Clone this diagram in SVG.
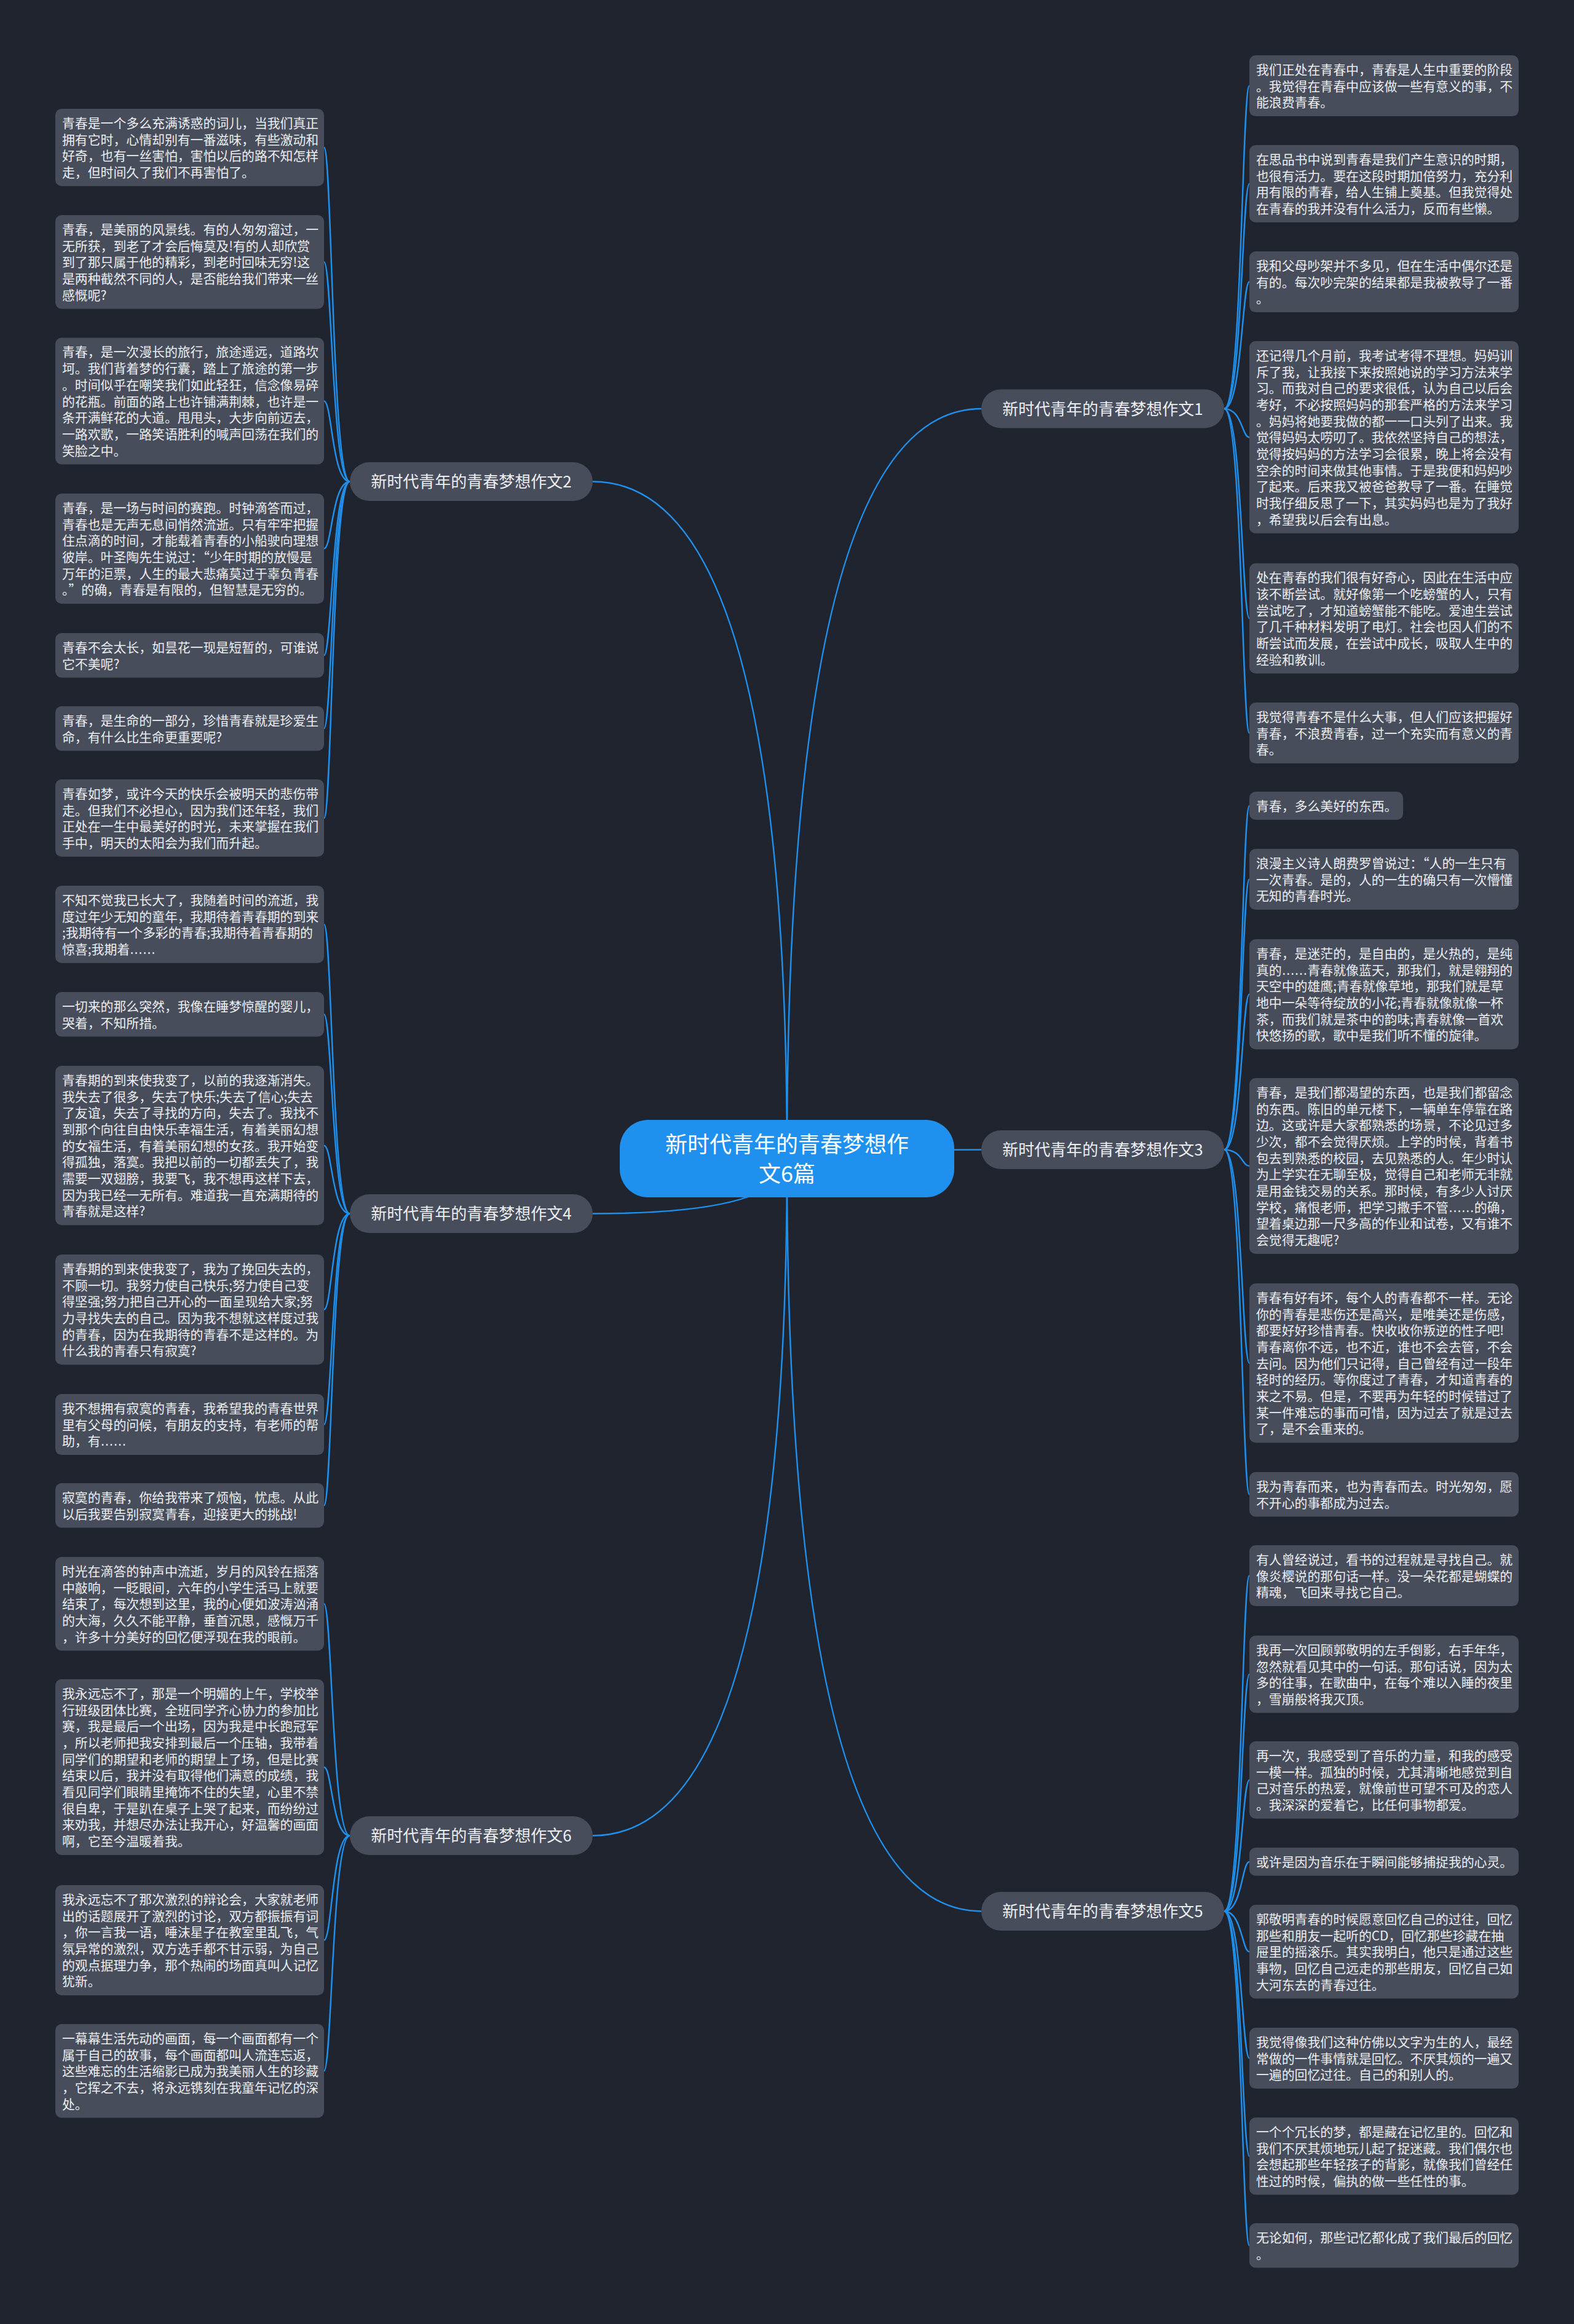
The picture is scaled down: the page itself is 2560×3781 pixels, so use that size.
<svg xmlns="http://www.w3.org/2000/svg" width="2560" height="3781" viewBox="0 0 2560 3781">
<defs>
<style>
.bg{fill:#20242f}
.leaf rect{fill:#474d5b}
.leaf text{font-family:"Noto Sans CJK SC","Noto Sans",sans-serif;font-size:20.87px;fill:#eceef2}
.leaf .el{font-family:"DejaVu Sans","Noto Sans CJK SC",sans-serif}
.sub rect{fill:#474d5b}
.sub text{font-family:"Noto Sans CJK SC","Noto Sans",sans-serif;font-size:26px;fill:#eceef2;text-anchor:middle}
.root rect{fill:#1f90ee}
.root text{font-family:"Noto Sans CJK SC","Noto Sans",sans-serif;font-size:36px;fill:#ffffff;text-anchor:middle}
#connectors path{fill:none;stroke:#1f8fea;stroke-width:2.5}
</style>
</defs>
<rect class="bg" x="0" y="0" width="2560" height="3781"/>
<g id="connectors">
<path d="M1280 1885 Q1280 665 1596 665"/>
<path d="M1280 1885 Q1280 783.5 964 783.5"/>
<path d="M1280 1885 Q1280 1870.5 1596 1870.5"/>
<path d="M1280 1885 Q1280 1974.5 964 1974.5"/>
<path d="M1280 1885 Q1280 3109.5 1596 3109.5"/>
<path d="M1280 1885 Q1280 2986.5 964 2986.5"/>
<path d="M569 783.5 C540 783.5 540 239.9 527 239.9"/>
<path d="M569 783.5 C540 783.5 540 426.3 527 426.3"/>
<path d="M569 783.5 C540 783.5 540 652.6 527 652.6"/>
<path d="M569 783.5 C540 783.5 540 892.6 527 892.6"/>
<path d="M569 783.5 C540 783.5 540 1066.2 527 1066.2"/>
<path d="M569 783.5 C540 783.5 540 1185.2 527 1185.2"/>
<path d="M569 783.5 C540 783.5 540 1330.9 527 1330.9"/>
<path d="M569 1974.5 C540 1974.5 540 1503.9 527 1503.9"/>
<path d="M569 1974.5 C540 1974.5 540 1650.2 527 1650.2"/>
<path d="M569 1974.5 C540 1974.5 540 1863.7 527 1863.7"/>
<path d="M569 1974.5 C540 1974.5 540 2130.6 527 2130.6"/>
<path d="M569 1974.5 C540 1974.5 540 2317.6 527 2317.6"/>
<path d="M569 1974.5 C540 1974.5 540 2449.2 527 2449.2"/>
<path d="M569 2986.5 C540 2986.5 540 2609.3 527 2609.3"/>
<path d="M569 2986.5 C540 2986.5 540 2875 527 2875"/>
<path d="M569 2986.5 C540 2986.5 540 3156.6 527 3156.6"/>
<path d="M569 2986.5 C540 2986.5 540 3369.3 527 3369.3"/>
<path d="M1991 665 C2020 665 2020 139.6 2032 139.6"/>
<path d="M1991 665 C2020 665 2020 298.9 2032 298.9"/>
<path d="M1991 665 C2020 665 2020 458.6 2032 458.6"/>
<path d="M1991 665 C2020 665 2020 711.4 2032 711.4"/>
<path d="M1991 665 C2020 665 2020 1006.1 2032 1006.1"/>
<path d="M1991 665 C2020 665 2020 1192.6 2032 1192.6"/>
<path d="M1991 1870.5 C2020 1870.5 2020 1310.9 2032 1310.9"/>
<path d="M1991 1870.5 C2020 1870.5 2020 1430.6 2032 1430.6"/>
<path d="M1991 1870.5 C2020 1870.5 2020 1617.6 2032 1617.6"/>
<path d="M1991 1870.5 C2020 1870.5 2020 1897 2032 1897"/>
<path d="M1991 1870.5 C2020 1870.5 2020 2217.7 2032 2217.7"/>
<path d="M1991 1870.5 C2020 1870.5 2020 2431.2 2032 2431.2"/>
<path d="M1991 3109.5 C2020 3109.5 2020 2563.6 2032 2563.6"/>
<path d="M1991 3109.5 C2020 3109.5 2020 2723.9 2032 2723.9"/>
<path d="M1991 3109.5 C2020 3109.5 2020 2895.9 2032 2895.9"/>
<path d="M1991 3109.5 C2020 3109.5 2020 3028.9 2032 3028.9"/>
<path d="M1991 3109.5 C2020 3109.5 2020 3175.3 2032 3175.3"/>
<path d="M1991 3109.5 C2020 3109.5 2020 3348.6 2032 3348.6"/>
<path d="M1991 3109.5 C2020 3109.5 2020 3507.9 2032 3507.9"/>
<path d="M1991 3109.5 C2020 3109.5 2020 3653.2 2032 3653.2"/>
</g>
<g id="root" class="root"><rect x="1008" y="1822" width="544" height="126" rx="46"/><text x="1280" y="1874.5">新时代青年的青春梦想作</text><text x="1280" y="1922.5">文6篇</text></g>
<g id="g1" class="sub"><rect x="1596" y="633.5" width="395" height="63" rx="31.5"/><text x="1793.5" y="674.5">新时代青年的青春梦想作文1</text></g>
<g id="g2" class="sub"><rect x="569" y="752" width="395" height="63" rx="31.5"/><text x="766.5" y="793">新时代青年的青春梦想作文2</text></g>
<g id="g3" class="sub"><rect x="1596" y="1839" width="395" height="63" rx="31.5"/><text x="1793.5" y="1880">新时代青年的青春梦想作文3</text></g>
<g id="g4" class="sub"><rect x="569" y="1943" width="395" height="63" rx="31.5"/><text x="766.5" y="1984">新时代青年的青春梦想作文4</text></g>
<g id="g5" class="sub"><rect x="1596" y="3078" width="395" height="63" rx="31.5"/><text x="1793.5" y="3119">新时代青年的青春梦想作文5</text></g>
<g id="g6" class="sub"><rect x="569" y="2955" width="395" height="63" rx="31.5"/><text x="766.5" y="2996">新时代青年的青春梦想作文6</text></g>
<g id="l2a" class="leaf"><rect x="90" y="177" width="437" height="125.8" rx="10"/><text x="101" y="207.8"><tspan x="101">青春是一个多么充满诱惑的词儿，当我们真正</tspan><tspan x="101" dy="26.7">拥有它时，心情却别有一番滋味，有些激动和</tspan><tspan x="101" dy="26.7">好奇，也有一丝害怕，害怕以后的路不知怎样</tspan><tspan x="101" dy="26.7">走，但时间久了我们不再害怕了。</tspan></text></g>
<g id="l2b" class="leaf"><rect x="90" y="350" width="437" height="152.5" rx="10"/><text x="101" y="380.8"><tspan x="101">青春，是美丽的风景线。有的人匆匆溜过，一</tspan><tspan x="101" dy="26.7">无所获，到老了才会后悔莫及!有的人却欣赏</tspan><tspan x="101" dy="26.7">到了那只属于他的精彩，到老时回味无穷!这</tspan><tspan x="101" dy="26.7">是两种截然不同的人，是否能给我们带来一丝</tspan><tspan x="101" dy="26.7">感慨呢?</tspan></text></g>
<g id="l2c" class="leaf"><rect x="90" y="549.6" width="437" height="205.9" rx="10"/><text x="101" y="580.4"><tspan x="101">青春，是一次漫长的旅行，旅途遥远，道路坎</tspan><tspan x="101" dy="26.7">坷。我们背着梦的行囊，踏上了旅途的第一步</tspan><tspan x="101" dy="26.7">。时间似乎在嘲笑我们如此轻狂，信念像易碎</tspan><tspan x="101" dy="26.7">的花瓶。前面的路上也许铺满荆棘，也许是一</tspan><tspan x="101" dy="26.7">条开满鲜花的大道。甩甩头，大步向前迈去，</tspan><tspan x="101" dy="26.7">一路欢歌，一路笑语胜利的喊声回荡在我们的</tspan><tspan x="101" dy="26.7">笑脸之中。</tspan></text></g>
<g id="l2d" class="leaf"><rect x="90" y="803" width="437" height="179.2" rx="10"/><text x="101" y="833.8"><tspan x="101">青春，是一场与时间的赛跑。时钟滴答而过，</tspan><tspan x="101" dy="26.7">青春也是无声无息间悄然流逝。只有牢牢把握</tspan><tspan x="101" dy="26.7">住点滴的时间，才能载着青春的小船驶向理想</tspan><tspan x="101" dy="26.7">彼岸。叶圣陶先生说过：“少年时期的放慢是</tspan><tspan x="101" dy="26.7">万年的洰票，人生的最大悲痛莫过于辜负青春</tspan><tspan x="101" dy="26.7">。”的确，青春是有限的，但智慧是无穷的。</tspan></text></g>
<g id="l2e" class="leaf"><rect x="90" y="1030" width="437" height="72.4" rx="10"/><text x="101" y="1060.8"><tspan x="101">青春不会太长，如昙花一现是短暂的，可谁说</tspan><tspan x="101" dy="26.7">它不美呢?</tspan></text></g>
<g id="l2f" class="leaf"><rect x="90" y="1149" width="437" height="72.4" rx="10"/><text x="101" y="1179.8"><tspan x="101">青春，是生命的一部分，珍惜青春就是珍爱生</tspan><tspan x="101" dy="26.7">命，有什么比生命更重要呢?</tspan></text></g>
<g id="l2g" class="leaf"><rect x="90" y="1268" width="437" height="125.8" rx="10"/><text x="101" y="1298.8"><tspan x="101">青春如梦，或许今天的快乐会被明天的悲伤带</tspan><tspan x="101" dy="26.7">走。但我们不必担心，因为我们还年轻，我们</tspan><tspan x="101" dy="26.7">正处在一生中最美好的时光，未来掌握在我们</tspan><tspan x="101" dy="26.7">手中，明天的太阳会为我们而升起。</tspan></text></g>
<g id="l4a" class="leaf"><rect x="90" y="1441" width="437" height="125.8" rx="10"/><text x="101" y="1471.8"><tspan x="101">不知不觉我已长大了，我随着时间的流逝，我</tspan><tspan x="101" dy="26.7">度过年少无知的童年，我期待着青春期的到来</tspan><tspan x="101" dy="26.7">;我期待有一个多彩的青春;我期待着青春期的</tspan><tspan x="101" dy="26.7">惊喜;我期着<tspan class="el">……</tspan></tspan></text></g>
<g id="l4b" class="leaf"><rect x="90" y="1614" width="437" height="72.4" rx="10"/><text x="101" y="1644.8"><tspan x="101">一切来的那么突然，我像在睡梦惊醒的婴儿，</tspan><tspan x="101" dy="26.7">哭着，不知所措。</tspan></text></g>
<g id="l4c" class="leaf"><rect x="90" y="1734" width="437" height="259.3" rx="10"/><text x="101" y="1764.8"><tspan x="101">青春期的到来使我变了，以前的我逐渐消失。</tspan><tspan x="101" dy="26.7">我失去了很多，失去了快乐;失去了信心;失去</tspan><tspan x="101" dy="26.7">了友谊，失去了寻找的方向，失去了。我找不</tspan><tspan x="101" dy="26.7">到那个向往自由快乐幸福生活，有着美丽幻想</tspan><tspan x="101" dy="26.7">的女福生活，有着美丽幻想的女孩。我开始变</tspan><tspan x="101" dy="26.7">得孤独，落寞。我把以前的一切都丢失了，我</tspan><tspan x="101" dy="26.7">需要一双翅膀，我要飞，我不想再这样下去，</tspan><tspan x="101" dy="26.7">因为我已经一无所有。难道我一直充满期待的</tspan><tspan x="101" dy="26.7">青春就是这样?</tspan></text></g>
<g id="l4d" class="leaf"><rect x="90" y="2041" width="437" height="179.2" rx="10"/><text x="101" y="2071.8"><tspan x="101">青春期的到来使我变了，我为了挽回失去的，</tspan><tspan x="101" dy="26.7">不顾一切。我努力使自己快乐;努力使自己变</tspan><tspan x="101" dy="26.7">得坚强;努力把自己开心的一面呈现给大家;努</tspan><tspan x="101" dy="26.7">力寻找失去的自己。因为我不想就这样度过我</tspan><tspan x="101" dy="26.7">的青春，因为在我期待的青春不是这样的。为</tspan><tspan x="101" dy="26.7">什么我的青春只有寂寞?</tspan></text></g>
<g id="l4e" class="leaf"><rect x="90" y="2268" width="437" height="99.1" rx="10"/><text x="101" y="2298.8"><tspan x="101">我不想拥有寂寞的青春，我希望我的青春世界</tspan><tspan x="101" dy="26.7">里有父母的问候，有朋友的支持，有老师的帮</tspan><tspan x="101" dy="26.7">助，有<tspan class="el">……</tspan></tspan></text></g>
<g id="l4f" class="leaf"><rect x="90" y="2413" width="437" height="72.4" rx="10"/><text x="101" y="2443.8"><tspan x="101">寂寞的青春，你给我带来了烦恼，忧虑。从此</tspan><tspan x="101" dy="26.7">以后我要告别寂寞青春，迎接更大的挑战!</tspan></text></g>
<g id="l6a" class="leaf"><rect x="90" y="2533" width="437" height="152.5" rx="10"/><text x="101" y="2563.8"><tspan x="101">时光在滴答的钟声中流逝，岁月的风铃在摇落</tspan><tspan x="101" dy="26.7">中敲响，一眨眼间，六年的小学生活马上就要</tspan><tspan x="101" dy="26.7">结束了，每次想到这里，我的心便如波涛汹涌</tspan><tspan x="101" dy="26.7">的大海，久久不能平静，垂首沉思，感慨万千</tspan><tspan x="101" dy="26.7">，许多十分美好的回忆便浮现在我的眼前。</tspan></text></g>
<g id="l6b" class="leaf"><rect x="90" y="2732" width="437" height="286" rx="10"/><text x="101" y="2762.8"><tspan x="101">我永远忘不了，那是一个明媚的上午，学校举</tspan><tspan x="101" dy="26.7">行班级团体比赛，全班同学齐心协力的参加比</tspan><tspan x="101" dy="26.7">赛，我是最后一个出场，因为我是中长跑冠军</tspan><tspan x="101" dy="26.7">，所以老师把我安排到最后一个压轴，我带着</tspan><tspan x="101" dy="26.7">同学们的期望和老师的期望上了场，但是比赛</tspan><tspan x="101" dy="26.7">结束以后，我并没有取得他们满意的成绩，我</tspan><tspan x="101" dy="26.7">看见同学们眼睛里掩饰不住的失望，心里不禁</tspan><tspan x="101" dy="26.7">很自卑，于是趴在桌子上哭了起来，而纷纷过</tspan><tspan x="101" dy="26.7">来劝我，并想尽办法让我开心，好温馨的画面</tspan><tspan x="101" dy="26.7">啊，它至今温暖着我。</tspan></text></g>
<g id="l6c" class="leaf"><rect x="90" y="3067" width="437" height="179.2" rx="10"/><text x="101" y="3097.8"><tspan x="101">我永远忘不了那次激烈的辩论会，大家就老师</tspan><tspan x="101" dy="26.7">出的话题展开了激烈的讨论，双方都振振有词</tspan><tspan x="101" dy="26.7">，你一言我一语，唾沫星子在教室里乱飞，气</tspan><tspan x="101" dy="26.7">氛异常的激烈，双方选手都不甘示弱，为自己</tspan><tspan x="101" dy="26.7">的观点据理力争，那个热闹的场面真叫人记忆</tspan><tspan x="101" dy="26.7">犹新。</tspan></text></g>
<g id="l6d" class="leaf"><rect x="90" y="3293" width="437" height="152.5" rx="10"/><text x="101" y="3323.8"><tspan x="101">一幕幕生活先动的画面，每一个画面都有一个</tspan><tspan x="101" dy="26.7">属于自己的故事，每个画面都叫人流连忘返，</tspan><tspan x="101" dy="26.7">这些难忘的生活缩影已成为我美丽人生的珍藏</tspan><tspan x="101" dy="26.7">，它挥之不去，将永远镌刻在我童年记忆的深</tspan><tspan x="101" dy="26.7">处。</tspan></text></g>
<g id="r1a" class="leaf"><rect x="2032" y="90" width="438" height="99.1" rx="10"/><text x="2043" y="120.8"><tspan x="2043">我们正处在青春中，青春是人生中重要的阶段</tspan><tspan x="2043" dy="26.7">。我觉得在青春中应该做一些有意义的事，不</tspan><tspan x="2043" dy="26.7">能浪费青春。</tspan></text></g>
<g id="r1b" class="leaf"><rect x="2032" y="236" width="438" height="125.8" rx="10"/><text x="2043" y="266.8"><tspan x="2043">在思品书中说到青春是我们产生意识的时期，</tspan><tspan x="2043" dy="26.7">也很有活力。要在这段时期加倍努力，充分利</tspan><tspan x="2043" dy="26.7">用有限的青春，给人生铺上奠基。但我觉得处</tspan><tspan x="2043" dy="26.7">在青春的我并没有什么活力，反而有些懒。</tspan></text></g>
<g id="r1c" class="leaf"><rect x="2032" y="409" width="438" height="99.1" rx="10"/><text x="2043" y="439.8"><tspan x="2043">我和父母吵架并不多见，但在生活中偶尔还是</tspan><tspan x="2043" dy="26.7">有的。每次吵完架的结果都是我被教导了一番</tspan><tspan x="2043" dy="26.7">。</tspan></text></g>
<g id="r1d" class="leaf"><rect x="2032" y="555" width="438" height="312.7" rx="10"/><text x="2043" y="585.8"><tspan x="2043">还记得几个月前，我考试考得不理想。妈妈训</tspan><tspan x="2043" dy="26.7">斥了我，让我接下来按照她说的学习方法来学</tspan><tspan x="2043" dy="26.7">习。而我对自己的要求很低，认为自己以后会</tspan><tspan x="2043" dy="26.7">考好，不必按照妈妈的那套严格的方法来学习</tspan><tspan x="2043" dy="26.7">。妈妈将她要我做的都一一口头列了出来。我</tspan><tspan x="2043" dy="26.7">觉得妈妈太唠叨了。我依然坚持自己的想法，</tspan><tspan x="2043" dy="26.7">觉得按妈妈的方法学习会很累，晚上将会没有</tspan><tspan x="2043" dy="26.7">空余的时间来做其他事情。于是我便和妈妈吵</tspan><tspan x="2043" dy="26.7">了起来。后来我又被爸爸教导了一番。在睡觉</tspan><tspan x="2043" dy="26.7">时我仔细反思了一下，其实妈妈也是为了我好</tspan><tspan x="2043" dy="26.7">，希望我以后会有出息。</tspan></text></g>
<g id="r1e" class="leaf"><rect x="2032" y="916.5" width="438" height="179.2" rx="10"/><text x="2043" y="947.3"><tspan x="2043">处在青春的我们很有好奇心，因此在生活中应</tspan><tspan x="2043" dy="26.7">该不断尝试。就好像第一个吃螃蟹的人，只有</tspan><tspan x="2043" dy="26.7">尝试吃了，才知道螃蟹能不能吃。爱迪生尝试</tspan><tspan x="2043" dy="26.7">了几千种材料发明了电灯。社会也因人们的不</tspan><tspan x="2043" dy="26.7">断尝试而发展，在尝试中成长，吸取人生中的</tspan><tspan x="2043" dy="26.7">经验和教训。</tspan></text></g>
<g id="r1f" class="leaf"><rect x="2032" y="1143" width="438" height="99.1" rx="10"/><text x="2043" y="1173.8"><tspan x="2043">我觉得青春不是什么大事，但人们应该把握好</tspan><tspan x="2043" dy="26.7">青春，不浪费青春，过一个充实而有意义的青</tspan><tspan x="2043" dy="26.7">春。</tspan></text></g>
<g id="r3a" class="leaf"><rect x="2032" y="1288" width="250" height="45.7" rx="10"/><text x="2043" y="1318.8">青春，多么美好的东西。</text></g>
<g id="r3b" class="leaf"><rect x="2032" y="1381" width="438" height="99.1" rx="10"/><text x="2043" y="1411.8"><tspan x="2043">浪漫主义诗人朗费罗曾说过：“人的一生只有</tspan><tspan x="2043" dy="26.7">一次青春。是的，人的一生的确只有一次懵懂</tspan><tspan x="2043" dy="26.7">无知的青春时光。</tspan></text></g>
<g id="r3c" class="leaf"><rect x="2032" y="1528" width="438" height="179.2" rx="10"/><text x="2043" y="1558.8"><tspan x="2043">青春，是迷茫的，是自由的，是火热的，是纯</tspan><tspan x="2043" dy="26.7">真的<tspan class="el">……</tspan>青春就像蓝天，那我们，就是翱翔的</tspan><tspan x="2043" dy="26.7">天空中的雄鹰;青春就像草地，那我们就是草</tspan><tspan x="2043" dy="26.7">地中一朵等待绽放的小花;青春就像就像一杯</tspan><tspan x="2043" dy="26.7">茶，而我们就是茶中的韵味;青春就像一首欢</tspan><tspan x="2043" dy="26.7">快悠扬的歌，歌中是我们听不懂的旋律。</tspan></text></g>
<g id="r3d" class="leaf"><rect x="2032" y="1754" width="438" height="286" rx="10"/><text x="2043" y="1784.8"><tspan x="2043">青春，是我们都渴望的东西，也是我们都留念</tspan><tspan x="2043" dy="26.7">的东西。陈旧的单元楼下，一辆单车停靠在路</tspan><tspan x="2043" dy="26.7">边。这或许是大家都熟悉的场景，不论见过多</tspan><tspan x="2043" dy="26.7">少次，都不会觉得厌烦。上学的时候，背着书</tspan><tspan x="2043" dy="26.7">包去到熟悉的校园，去见熟悉的人。年少时认</tspan><tspan x="2043" dy="26.7">为上学实在无聊至极，觉得自己和老师无非就</tspan><tspan x="2043" dy="26.7">是用金钱交易的关系。那时候，有多少人讨厌</tspan><tspan x="2043" dy="26.7">学校，痛恨老师，把学习撒手不管<tspan class="el">……</tspan>的确，</tspan><tspan x="2043" dy="26.7">望着桌边那一尺多高的作业和试卷，又有谁不</tspan><tspan x="2043" dy="26.7">会觉得无趣呢?</tspan></text></g>
<g id="r3e" class="leaf"><rect x="2032" y="2088" width="438" height="259.3" rx="10"/><text x="2043" y="2118.8"><tspan x="2043">青春有好有坏，每个人的青春都不一样。无论</tspan><tspan x="2043" dy="26.7">你的青春是悲伤还是高兴，是唯美还是伤感，</tspan><tspan x="2043" dy="26.7">都要好好珍惜青春。快收收你叛逆的性子吧!</tspan><tspan x="2043" dy="26.7">青春离你不远，也不近，谁也不会去管，不会</tspan><tspan x="2043" dy="26.7">去问。因为他们只记得，自己曾经有过一段年</tspan><tspan x="2043" dy="26.7">轻时的经历。等你度过了青春，才知道青春的</tspan><tspan x="2043" dy="26.7">来之不易。但是，不要再为年轻的时候错过了</tspan><tspan x="2043" dy="26.7">某一件难忘的事而可惜，因为过去了就是过去</tspan><tspan x="2043" dy="26.7">了，是不会重来的。</tspan></text></g>
<g id="r3f" class="leaf"><rect x="2032" y="2395" width="438" height="72.4" rx="10"/><text x="2043" y="2425.8"><tspan x="2043">我为青春而来，也为青春而去。时光匆匆，愿</tspan><tspan x="2043" dy="26.7">不开心的事都成为过去。</tspan></text></g>
<g id="r5a" class="leaf"><rect x="2032" y="2514" width="438" height="99.1" rx="10"/><text x="2043" y="2544.8"><tspan x="2043">有人曾经说过，看书的过程就是寻找自己。就</tspan><tspan x="2043" dy="26.7">像炎樱说的那句话一样。没一朵花都是蝴蝶的</tspan><tspan x="2043" dy="26.7">精魂，飞回来寻找它自己。</tspan></text></g>
<g id="r5b" class="leaf"><rect x="2032" y="2661" width="438" height="125.8" rx="10"/><text x="2043" y="2691.8"><tspan x="2043">我再一次回顾郭敬明的左手倒影，右手年华，</tspan><tspan x="2043" dy="26.7">忽然就看见其中的一句话。那句话说，因为太</tspan><tspan x="2043" dy="26.7">多的往事，在歌曲中，在每个难以入睡的夜里</tspan><tspan x="2043" dy="26.7">，雪崩般将我灭顶。</tspan></text></g>
<g id="r5c" class="leaf"><rect x="2032" y="2833" width="438" height="125.8" rx="10"/><text x="2043" y="2863.8"><tspan x="2043">再一次，我感受到了音乐的力量，和我的感受</tspan><tspan x="2043" dy="26.7">一模一样。孤独的时候，尤其清晰地感觉到自</tspan><tspan x="2043" dy="26.7">己对音乐的热爱，就像前世可望不可及的恋人</tspan><tspan x="2043" dy="26.7">。我深深的爱着它，比任何事物都爱。</tspan></text></g>
<g id="r5d" class="leaf"><rect x="2032" y="3006" width="438" height="45.7" rx="10"/><text x="2043" y="3036.8">或许是因为音乐在于瞬间能够捕捉我的心灵。</text></g>
<g id="r5e" class="leaf"><rect x="2032" y="3099" width="438" height="152.5" rx="10"/><text x="2043" y="3129.8"><tspan x="2043">郭敬明青春的时候愿意回忆自己的过往，回忆</tspan><tspan x="2043" dy="26.7">那些和朋友一起听的CD，回忆那些珍藏在抽</tspan><tspan x="2043" dy="26.7">屉里的摇滚乐。其实我明白，他只是通过这些</tspan><tspan x="2043" dy="26.7">事物，回忆自己远走的那些朋友，回忆自己如</tspan><tspan x="2043" dy="26.7">大河东去的青春过往。</tspan></text></g>
<g id="r5f" class="leaf"><rect x="2032" y="3299" width="438" height="99.1" rx="10"/><text x="2043" y="3329.8"><tspan x="2043">我觉得像我们这种仿佛以文字为生的人，最经</tspan><tspan x="2043" dy="26.7">常做的一件事情就是回忆。不厌其烦的一遍又</tspan><tspan x="2043" dy="26.7">一遍的回忆过往。自己的和别人的。</tspan></text></g>
<g id="r5g" class="leaf"><rect x="2032" y="3445" width="438" height="125.8" rx="10"/><text x="2043" y="3475.8"><tspan x="2043">一个个冗长的梦，都是藏在记忆里的。回忆和</tspan><tspan x="2043" dy="26.7">我们不厌其烦地玩儿起了捉迷藏。我们偶尔也</tspan><tspan x="2043" dy="26.7">会想起那些年轻孩子的背影，就像我们曾经任</tspan><tspan x="2043" dy="26.7">性过的时候，偏执的做一些任性的事。</tspan></text></g>
<g id="r5h" class="leaf"><rect x="2032" y="3617" width="438" height="72.4" rx="10"/><text x="2043" y="3647.8"><tspan x="2043">无论如何，那些记忆都化成了我们最后的回忆</tspan><tspan x="2043" dy="26.7">。</tspan></text></g>
</svg>
